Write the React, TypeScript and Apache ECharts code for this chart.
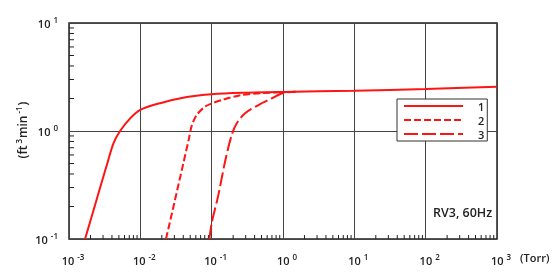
import React, { useEffect, useRef } from "react";
import * as echarts from "echarts";

// Pumping speed curves (ft^3/min) vs pressure (Torr)
const curve1: [number, number][] = [
  [0.00168, 0.1], [0.0025, 0.245], [0.0035, 0.52], [0.0042, 0.77], [0.0052, 1.0],
  [0.0072, 1.31], [0.01, 1.57], [0.019, 1.81], [0.045, 2.06], [0.1, 2.19],
  [0.3, 2.26], [1, 2.3], [10, 2.36], [100, 2.45], [1000, 2.57],
];
const curve2: [number, number][] = [
  [0.0229, 0.1], [0.03, 0.217], [0.04, 0.5], [0.048, 0.85], [0.0526, 1.12],
  [0.0618, 1.41], [0.0807, 1.68], [0.1, 1.8], [0.14, 1.94], [0.26, 2.15],
  [0.5, 2.24], [1, 2.29], [1.5, 2.305],
];
const curve3: [number, number][] = [
  [0.093, 0.1], [0.1, 0.14], [0.124, 0.255], [0.154, 0.52], [0.191, 0.92],
  [0.225, 1.18], [0.294, 1.46], [0.452, 1.74], [0.7, 2.01], [1, 2.25], [1.5, 2.305],
];
const seriesNames = ["1", "2", "3"];
const xDecades = [-3, -2, -1, 0, 1, 2];
const yDecades = [-1, 0];
const minorMultipliers = [2, 3, 4, 5, 6, 7, 8, 9];

const RED = "#ff1414";
const FONT = "Open Sans";

export default function App() {
  const ref = useRef<HTMLDivElement>(null);
  useEffect(() => {
    if (!ref.current) return;
    const chart = echarts.init(ref.current, null, { renderer: "svg" });

    const xMinor: [number, number][] = [];
    xDecades.forEach((d) => minorMultipliers.forEach((m) => xMinor.push([m * Math.pow(10, d), 0.1])));
    const yMinor: [number, number][] = [];
    yDecades.forEach((d) => minorMultipliers.forEach((m) => yMinor.push([0.001, m * Math.pow(10, d)])));

    const labelFmt = (v: number) => {
      const e = Math.round(Math.log10(v));
      return `{b|10}{s|${e}}`;
    };
    const rich = {
      b: { fontSize: 11, fontWeight: 600, color: "#222", fontFamily: FONT },
      s: { fontSize: 8, fontWeight: 600, color: "#222", fontFamily: FONT, padding: [0, 0, 8, 3] },
    };

    const lineSeries = (name: string, data: [number, number][], type: any) => ({
      name,
      type: "line",
      data,
      symbol: "none",
      smooth: 0.3,
      lineStyle: { color: RED, width: 2, type },
      itemStyle: { color: RED },
      z: 5,
    });

    chart.setOption({
      animation: false,
      grid: {
        left: 69, right: 62, top: 23, bottom: 33,
        show: true, borderColor: "#222", borderWidth: 1.5, backgroundColor: "transparent",
      },
      xAxis: {
        type: "log", logBase: 10, min: 0.001, max: 1000, interval: 1,
        axisLine: { show: false }, axisTick: { show: false },
        splitLine: { show: true, lineStyle: { color: "#444", width: 1 } },
        axisLabel: { formatter: labelFmt, rich, margin: 13, padding: [0, 0, 0, 8], showMinLabel: true, showMaxLabel: true },
      },
      yAxis: {
        type: "log", logBase: 10, min: 0.1, max: 10, interval: 1,
        axisLine: { show: false }, axisTick: { show: false },
        splitLine: { show: true, lineStyle: { color: "#444", width: 1 } },
        axisLabel: { formatter: labelFmt, rich, margin: 11 },
      },
      legend: {
        data: seriesNames,
        orient: "vertical",
        left: 397, top: 99,
        backgroundColor: "#fff",
        borderColor: "#333", borderWidth: 1,
        padding: [1, 3, 1, 6],
        itemWidth: 59, itemHeight: 13, itemGap: 2,
        itemStyle: { opacity: 0 },
        textStyle: { fontSize: 11, lineHeight: 12, color: "#222", fontFamily: FONT, fontWeight: 600, padding: [0, 0, 0, 10] },
      },
      graphic: [
        {
          type: "text", left: 433, top: 206,
          style: { text: "RV3, 60Hz", fontSize: 12.5, fontFamily: FONT, fontWeight: 600, fill: "#222" },
        },
        {
          type: "text", left: 520, top: 252,
          style: { text: "(Torr)", fontSize: 11, fontFamily: FONT, fontWeight: 600, fill: "#222" },
        },
        {
          type: "text", x: 22, y: 130, rotation: Math.PI / 2,
          style: {
            text: "{b|(ft}{s|3}{b|min}{s|-1}{b|)}",
            align: "center", verticalAlign: "middle",
            rich: {
              b: { fontSize: 12, fontWeight: 600, fill: "#222", fontFamily: FONT },
              s: { fontSize: 8, fontWeight: 600, fill: "#222", fontFamily: FONT, padding: [0, 1, 8, 2] },
            },
          },
        },
      ],
      series: [
        lineSeries("1", curve1, "solid"),
        lineSeries("2", curve2, [7, 3]),
        lineSeries("3", curve3, [14, 4]),
        {
          type: "custom", silent: true, clip: false, z: 3, data: xMinor,
          renderItem: (_p: any, api: any) => {
            const pt = api.coord([api.value(0), api.value(1)]);
            return { type: "line", shape: { x1: pt[0], y1: pt[1], x2: pt[0], y2: pt[1] - 4 }, style: { stroke: "#222", lineWidth: 1 } };
          },
        },
        {
          type: "custom", silent: true, clip: false, z: 3, data: yMinor,
          renderItem: (_p: any, api: any) => {
            const pt = api.coord([api.value(0), api.value(1)]);
            return { type: "line", shape: { x1: pt[0], y1: pt[1], x2: pt[0] + 5, y2: pt[1] }, style: { stroke: "#222", lineWidth: 1 } };
          },
        },
      ],
    });
    return () => chart.dispose();
  }, []);
  return <div ref={ref} style={{ position: "fixed", left: 0, top: 0, width: 559, height: 272 }} />;
}
